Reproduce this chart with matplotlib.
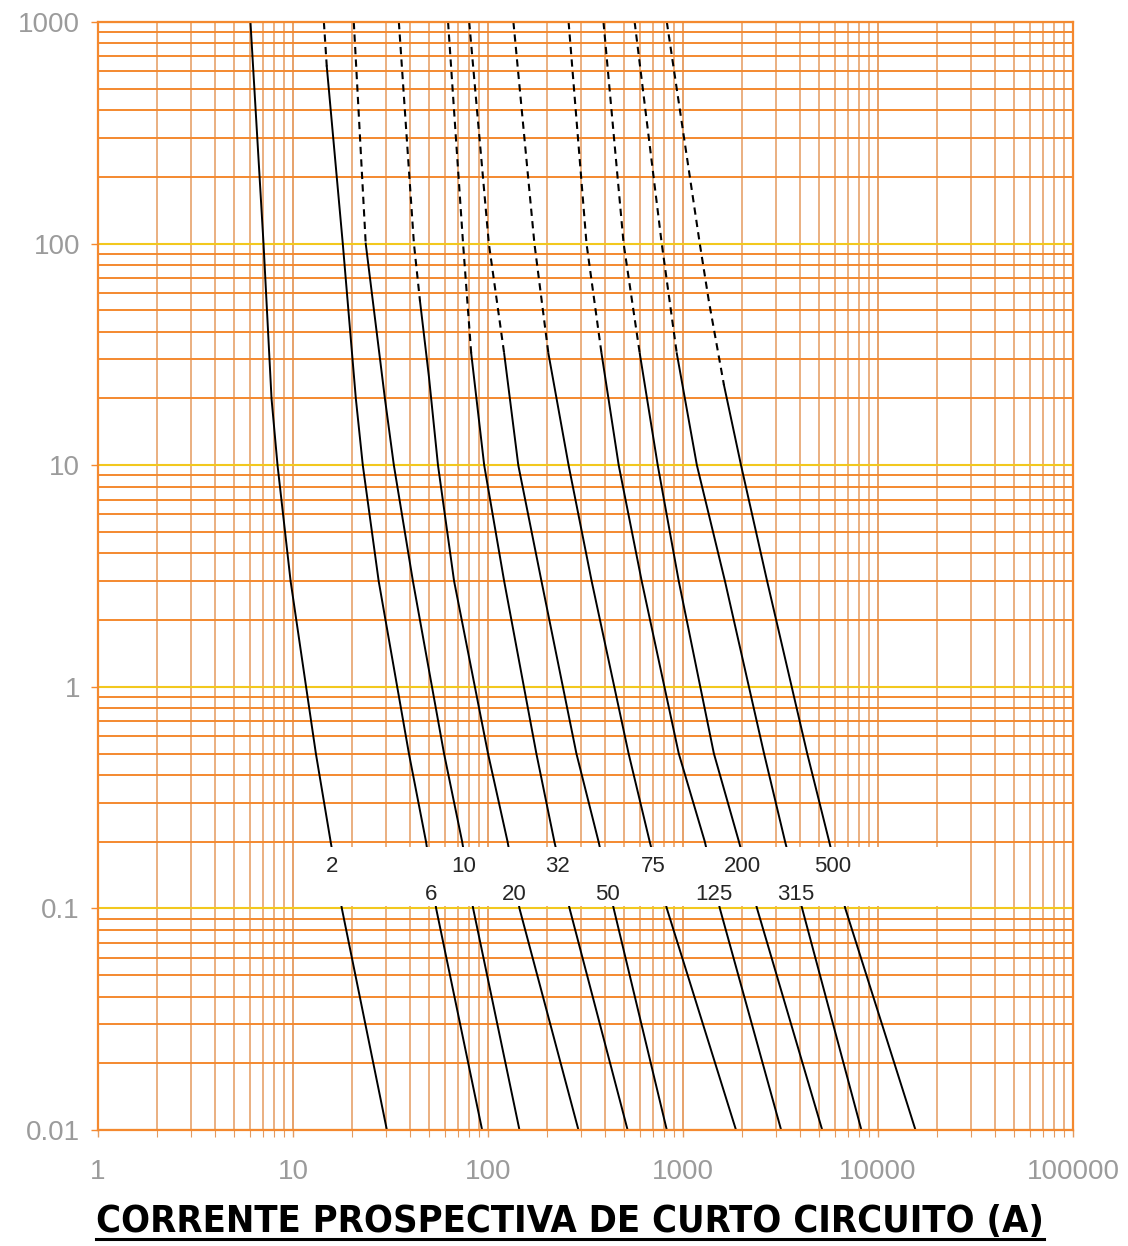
import numpy as np
import matplotlib
matplotlib.use('Agg')
import matplotlib.pyplot as plt
from matplotlib.patches import Rectangle
from matplotlib.lines import Line2D
from matplotlib.ticker import LogLocator, FuncFormatter, NullFormatter
from matplotlib import font_manager
from matplotlib.font_manager import FontProperties

# Curvas tempo x corrente dos fusiveis gG
# corrente em A, tempo em s; os primeiros pontos (ate n_trac) sao tracejados
calibres = ['2', '6', '10', '20', '32', '50', '75', '125', '200', '315', '500']
linha_rotulo = [0, 1, 0, 1, 0, 1, 0, 1, 0, 1, 0]   # 0 = linha de cima, 1 = de baixo

I_2 = [6.05, 7.06, 7.76, 8.33, 9.72, 13.1, 15.6, 17.8, 30.3]
t_2 = [1000, 100, 20, 10, 3, 0.5, 0.2, 0.1, 0.01]

I_6 = [14.4, 14.9, 18.0, 21.0, 22.8, 27.5, 39.3, 48.1, 54.2, 93.3]
t_6 = [1000, 630, 100, 20, 10, 3, 0.5, 0.2, 0.1, 0.01]

I_10 = [20.5, 23.6, 29.6, 32.9, 41.2, 59.5, 73.7, 83.9, 145]
t_10 = [1000, 100, 20, 10, 3, 0.5, 0.2, 0.1, 0.01]

I_20 = [34.9, 41.7, 44.8, 49.8, 55.4, 67.0, 100, 126, 145, 291]
t_20 = [1000, 100, 55, 25, 10, 3, 0.5, 0.2, 0.1, 0.01]

I_32 = [62.4, 74.5, 82.0, 95.6, 121, 177, 219, 262, 520]
I_50 = [80.1, 101, 121, 143, 188, 284, 369, 441, 826]
I_75 = [135, 173, 204, 259, 340, 526, 675, 826, 1870]
I_125 = [259, 320, 382, 468, 614, 951, 1294, 1545, 3186]
I_200 = [391, 496, 600, 742, 951, 1440, 1936, 2397, 5176]
I_315 = [565, 778, 929, 1178, 1641, 2604, 3339, 4083, 8220]
t_32a315 = [1000, 100, 32, 10, 3, 0.5, 0.2, 0.1, 0.01]

I_500 = [826, 1219, 1357, 1622, 1984, 2700, 4335, 5622, 6795, 15570]
t_500 = [1000, 100, 55, 23, 10, 3, 0.5, 0.2, 0.1, 0.01]

correntes = [I_2, I_6, I_10, I_20, I_32, I_50, I_75, I_125, I_200, I_315, I_500]
tempos = [t_2, t_6, t_10, t_20, t_32a315, t_32a315, t_32a315,
          t_32a315, t_32a315, t_32a315, t_500]
n_trac = [0, 1, 1, 2, 2, 2, 2, 2, 2, 2, 3]

# faixa branca dos rotulos (A, s)
faixa_I = (14.7, 20600)
faixa_t = (0.103, 0.19)
t_rotulo = [0.155, 0.116]

titulo = 'CORRENTE PROSPECTIVA DE CURTO CIRCUITO (A)'

# cores
cor_h = '#f4892f'
cor_v = '#e49a5e'
amarelo = '#f2c81e'
cinza = '#9b9b9b'

lista = font_manager.fontManager.ttflist
nomes = {f.name for f in lista}
fonte = 'Liberation Sans' if 'Liberation Sans' in nomes else 'DejaVu Sans'


def fonte_titulo():
    # procura uma fonte estreita em negrito (tipo Arial Narrow)
    negrito = [f for f in lista if f.weight in (700, 'bold')]
    for f in negrito:
        if f.name == 'Liberation Sans Narrow':
            return FontProperties(fname=f.fname)
    for f in negrito:
        if 'Narrow' in f.name or 'Condensed' in f.name or \
                f.stretch in ('condensed', 'semi-condensed'):
            return FontProperties(fname=f.fname)
    return FontProperties(family=fonte, weight='bold')


fig = plt.figure(figsize=(11.28, 12.46), dpi=100)
ax = fig.add_axes([98 / 1128, 116 / 1246, 975 / 1128, 1108 / 1246])
ax.set_xscale('log')
ax.set_yscale('log')
ax.set_xlim(1, 1e5)
ax.set_ylim(0.01, 1000)

for eixo in (ax.xaxis, ax.yaxis):
    eixo.set_major_locator(LogLocator(base=10, numticks=12))
    eixo.set_minor_locator(LogLocator(base=10, subs=np.arange(2, 10), numticks=120))
    eixo.set_minor_formatter(NullFormatter())
    eixo.set_major_formatter(FuncFormatter(lambda v, p: f'{v:.0f}' if v >= 1 else f'{v:g}'))

ax.grid(which='major', axis='x', color=cor_v, lw=1.3)
ax.grid(which='minor', axis='x', color=cor_v, lw=1.1)
ax.grid(which='major', axis='y', color=amarelo, lw=1.5)
ax.grid(which='minor', axis='y', color=cor_h, lw=1.4)
ax.set_axisbelow(True)

for s in ax.spines.values():
    s.set_color(cor_h)
    s.set_linewidth(1.6)

ax.tick_params(which='major', axis='x', length=5, width=1, color=cor_v, pad=16,
               labelsize=20, labelcolor=cinza)
ax.tick_params(which='minor', axis='x', length=5, width=0.8, color=cor_v)
ax.tick_params(which='major', axis='y', length=5, width=1, color=cor_h, pad=8,
               labelsize=20, labelcolor=cinza)
ax.tick_params(which='minor', axis='y', length=0)
for lb in ax.get_xticklabels() + ax.get_yticklabels():
    lb.set_fontfamily(fonte)

# curvas
for I, t, n in zip(correntes, tempos, n_trac):
    if n > 0:
        ax.plot(I[:n + 1], t[:n + 1], color='black', lw=1.5, ls=(0, (3.5, 2.5)), zorder=2)
    ax.plot(I[n:], t[n:], color='black', lw=1.4, zorder=2)

# faixa branca com os calibres
ax.add_patch(Rectangle((faixa_I[0], faixa_t[0]), faixa_I[1] - faixa_I[0],
                       faixa_t[1] - faixa_t[0], facecolor='white',
                       edgecolor='none', zorder=3))

for nome, I, t, lin in zip(calibres, correntes, tempos, linha_rotulo):
    ty = t_rotulo[lin]
    lx = np.interp(np.log10(ty), np.log10(t[::-1]), np.log10(I[::-1]))
    ax.annotate(nome, (10 ** lx, ty), xytext=(-2, 0), textcoords='offset points',
                ha='center', va='center', fontsize=16, color='#262626',
                family=fonte, zorder=4)

# titulo sublinhado
fp = fonte_titulo()
fp.set_size(31)
tx = fig.text(0.5055, 0.0193, titulo, ha='center', va='center',
              fontproperties=fp, color='black')
fig.canvas.draw()
r = fig.canvas.get_renderer()
bb = tx.get_window_extent(r)
alvo = 946.0
tx.set_fontsize(31 * alvo / bb.width)
fig.canvas.draw()
bb = tx.get_window_extent(r)
W, H = fig.bbox.width, fig.bbox.height
yl = (bb.y0 + 1) / H
fig.add_artist(Line2D([bb.x0 / W, bb.x1 / W], [yl, yl], color='black', lw=2.2))

fig.savefig('out.png', dpi=100)
